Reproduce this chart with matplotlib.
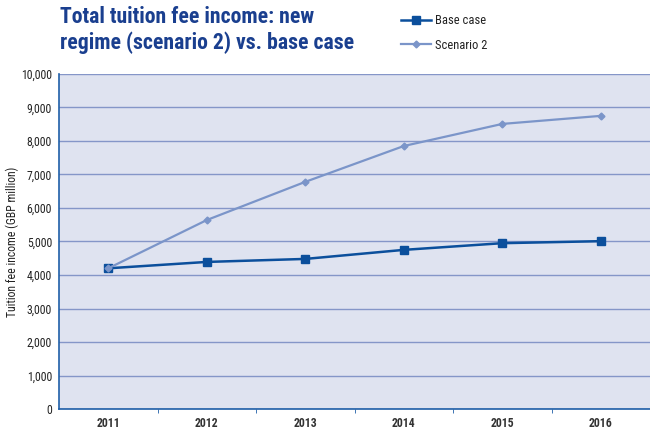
import matplotlib
matplotlib.use("Agg")
import matplotlib.pyplot as plt
from matplotlib import font_manager
from matplotlib.font_manager import FontProperties

years = ["2011", "2012", "2013", "2014", "2015", "2016"]
base_case = [4200, 4390, 4480, 4750, 4950, 5010]
scenario_2 = [4200, 5640, 6780, 7850, 8510, 8750]
y_ticks = [0, 1000, 2000, 3000, 4000, 5000, 6000, 7000, 8000, 9000, 10000]


def pick_font(bold):
    """Prefer a condensed / narrow face; fall back to DejaVu Sans."""
    best = None
    for f in font_manager.fontManager.ttflist:
        name = f.fname.lower()
        narrow = ("condensed" in name or "narrow" in name
                  or f.stretch in ("condensed", "semi-condensed", 400))
        if not narrow or "italic" in name or "oblique" in name:
            continue
        w = f.weight if isinstance(f.weight, int) else font_manager.weight_dict.get(f.weight, 400)
        if bold and w < 600:
            continue
        if not bold and (w >= 600 or "light" in name or "thin" in name):
            continue
        if "semi" in name and "condensed" in name:
            continue
        best = f.fname
        if "liberation" in name or "roboto" in name:
            break
    if best:
        return FontProperties(fname=best)
    return FontProperties(family="DejaVu Sans", weight="bold" if bold else "normal")


reg = pick_font(False)
bld = pick_font(True)

navy = "#0b4f9c"
light = "#7b95c9"
title_col = "#1a3f8f"
axis_col = "#1f5fa8"
text_col = "#222222"

fig = plt.figure(figsize=(6.5, 4.3), dpi=100)
ax = fig.add_axes([59 / 650, 21 / 430, 591 / 650, 335 / 430])
ax.set_facecolor("#dfe3f0")

x = list(range(len(years)))
ax.plot(x, base_case, color=navy, lw=1.8, marker="s", ms=5.5, zorder=3, label="Base case")
ax.plot(x, scenario_2, color=light, lw=1.6, marker="D", ms=3.5, zorder=4, label="Scenario 2")

ax.set_xlim(-0.5, 5.5)
ax.set_ylim(0, 10000)
ax.set_yticks(y_ticks)
ax.set_yticklabels([f"{v:,}" for v in y_ticks], fontproperties=reg, fontsize=8.5, color=text_col)
ax.yaxis.grid(True, color="#8596c8", lw=1.0)
ax.set_axisbelow(True)
ax.tick_params(axis="y", length=0, pad=5)

ax.set_xticks(x)
ax.set_xticklabels(years, fontproperties=bld, fontsize=8.5, color="#333333")
ax.set_xticks([i + 0.5 for i in range(5)], minor=True)
ax.tick_params(axis="x", which="major", length=0, pad=6)
ax.tick_params(axis="x", which="minor", length=3, color=axis_col, direction="out")

for side in ("top", "right"):
    ax.spines[side].set_visible(False)
for side in ("left", "bottom"):
    ax.spines[side].set_color(axis_col)
    ax.spines[side].set_linewidth(1.2)

ax.set_ylabel("Tuition fee income (GBP million)", fontproperties=reg, fontsize=8.5, color=text_col)
ax.yaxis.set_label_coords(-40 / 591, 0.5)

title = fig.text(60 / 650, 1 - 6 / 430,
                 "Total tuition fee income: new\nregime (scenario 2) vs. base case",
                 fontproperties=bld, fontsize=15, color=title_col, va="top", ha="left",
                 linespacing=1.2)

# keep the title block at its intended width whichever face was found
fig.canvas.draw()
w = title.get_window_extent().width
title.set_fontsize(15 * 293 / w)

leg = fig.legend(loc="upper left", bbox_to_anchor=(388 / 650, 1 - 2 / 430), frameon=False,
                 prop=reg, handlelength=2.2, labelspacing=0.8, handletextpad=0.3)
for t in leg.get_texts():
    t.set_fontsize(9)
    t.set_color(text_col)

fig.savefig("out.png", dpi=100)
